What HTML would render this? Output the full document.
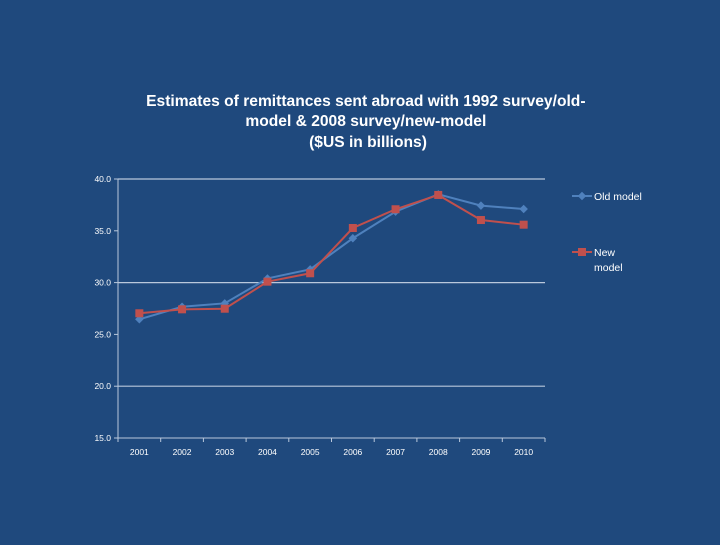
<!DOCTYPE html>
<html><head><meta charset="utf-8"><style>
body{margin:0;width:720px;height:540px;background:#1f497d;overflow:hidden;font-family:"Liberation Sans",sans-serif}
</style></head><body>
<svg width="720" height="540">
<text fill="#fff" font-weight="bold" font-size="15.6" text-anchor="middle" font-family="Liberation Sans, sans-serif">
<tspan x="368" y="106">Estimates of remittances sent abroad with 1992 survey/old-</tspan>
<tspan x="368" y="126">model &amp; 2008 survey/new-model</tspan>
<tspan x="368" y="147">($US in billions)</tspan></text>
<g id="grid"></g><g id="axes"></g><g id="series"></g>
<g font-size="10.5" fill="#fff">
<line x1="572" y1="196" x2="592" y2="196" stroke="#4f81bd" stroke-width="2"/>
<rect x="579" y="193" width="6" height="6" transform="rotate(45 582 196)" fill="#4f81bd"/>
<text x="594" y="200">Old model</text>
<line x1="572" y1="252" x2="592" y2="252" stroke="#c0504d" stroke-width="2"/>
<rect x="578" y="248" width="8" height="8" fill="#c0504d"/>
<text x="594" y="256">New</text>
<text x="594" y="271">model</text>
</g>
</svg>
<script>
const categories=["2001","2002","2003","2004","2005","2006","2007","2008","2009","2010"];
const oldModel=[26.46,27.67,28.0,30.4,31.28,34.28,36.85,38.52,37.43,37.1];
const newModel=[27.04,27.42,27.48,30.09,30.9,35.27,37.08,38.46,36.04,35.59];
const yTicks=[15,20,25,30,35,40];
const gridValues=[20,30,40];
const NS="http://www.w3.org/2000/svg";
const X0=118,X1=545,Y0=438,Y1=179,YMIN=15,YMAX=40;
const bw=(X1-X0)/categories.length;
const xs=i=>X0+bw*(i+0.5);
const ys=v=>Y0-(v-YMIN)/(YMAX-YMIN)*(Y0-Y1);
function mk(t,a,p){const e=document.createElementNS(NS,t);for(const k in a)e.setAttribute(k,a[k]);p.appendChild(e);return e;}
const grid=document.getElementById('grid'),axes=document.getElementById('axes'),ser=document.getElementById('series');
gridValues.forEach(v=>{const l=mk('line',{x1:X0,x2:X1,y1:ys(v),y2:ys(v),stroke:'#b9c8dc','stroke-width':1.2},grid);

});
mk('line',{x1:X0,x2:X0,y1:Y1,y2:Y0,stroke:'#b9c8dc'},axes);
mk('line',{x1:X0,x2:X1,y1:Y0,y2:Y0,stroke:'#b9c8dc'},axes);
yTicks.forEach(v=>{mk('line',{x1:X0-4,x2:X0,y1:ys(v),y2:ys(v),stroke:'#b9c8dc'},axes);
const t=mk('text',{x:X0-7,y:ys(v)+3,fill:'#fff','font-size':8.5,'text-anchor':'end'},axes);t.textContent=v.toFixed(1);

});
for(let i=0;i<=categories.length;i++)mk('line',{x1:X0+bw*i,x2:X0+bw*i,y1:Y0,y2:Y0+4,stroke:'#b9c8dc'},axes);
categories.forEach((c,i)=>{const t=mk('text',{x:xs(i),y:Y0+17,fill:'#fff','font-size':8.5,'text-anchor':'middle'},axes);t.textContent=c;

});
function draw(vals,color,shape,name){
const g=mk('g',{},ser);


mk('polyline',{points:vals.map((v,i)=>xs(i)+','+ys(v)).join(' '),fill:'none',stroke:color,'stroke-width':2},g);
vals.forEach((v,i)=>{const x=xs(i),y=ys(v);let m;
if(shape==='d')m=mk('rect',{x:x-3,y:y-3,width:6,height:6,fill:color,transform:`rotate(45 ${x} ${y})`},g);
else m=mk('rect',{x:x-4,y:y-4,width:8,height:8,fill:color},g);

});}
draw(oldModel,'#4f81bd','d','series-old-model');
draw(newModel,'#c0504d','s','series-new-model');
</script>
</body></html>
